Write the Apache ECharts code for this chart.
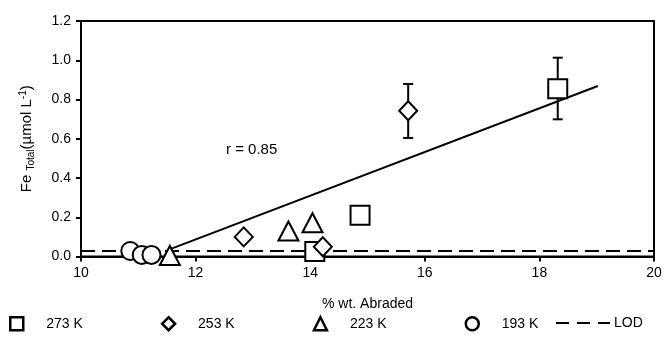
<!DOCTYPE html>
<html><head><meta charset="utf-8">
<script src="https://cdn.jsdelivr.net/npm/echarts@6/dist/echarts.min.js"></script>
<style>html,body{margin:0;padding:0;background:#fff}#c{width:666px;height:356px}</style>
</head><body><div id="c"></div>
<script>
const s273 = [[14.08, 0.025], [14.87, 0.21], [18.32, 0.855]];
const s253 = [[12.84, 0.10], [14.22, 0.05], [15.71, 0.743]];
const s223 = [[11.55, 0.005], [13.62, 0.13], [14.04, 0.172]];
const s193 = [[10.86, 0.028], [11.06, 0.008], [11.23, 0.008]];
const errBars = [[18.32, 0.699, 1.013], [15.71, 0.604, 0.879]];
const trend = [[11.58, 0.04], [19.02, 0.869]];
const lod = [[10, 0.028], [20, 0.028]];
const xTicks = [10, 12, 14, 16, 18, 20];
const yTicks = [0, 0.2, 0.4, 0.6, 0.8, 1.0, 1.2];

const font = 'Liberation Sans, Arial, sans-serif';
const chart = echarts.init(document.getElementById('c'));
const mk = { color: '#fff', borderColor: '#000', borderWidth: 2, opacity: 1 };
chart.setOption({
  animation: false,
  textStyle: { fontFamily: font, color: '#000' },
  grid: { left: 81, right: 12, top: 21, bottom: 99.5, show: true, borderColor: '#000', borderWidth: 2 },
  xAxis: {
    type: 'value', min: xTicks[0], max: xTicks[xTicks.length - 1], interval: 2,
    name: '% wt. Abraded', nameLocation: 'middle', nameGap: 41,
    nameTextStyle: { fontSize: 14, color: '#000', fontFamily: font },
    axisLine: { lineStyle: { color: '#000', width: 2 } },
    axisTick: { show: true, length: 5, lineStyle: { color: '#000', width: 2 } },
    axisLabel: { fontSize: 14, color: '#000', margin: 10, fontFamily: font },
    splitLine: { show: false }
  },
  yAxis: {
    type: 'value', min: yTicks[0], max: yTicks[yTicks.length - 1], interval: 0.2,
    name: '{a|Fe }{b|Total}{a|(µmol L}{c|-1}{a|)}', nameLocation: 'middle', nameGap: 44, nameRotate: 90,
    nameTextStyle: {
      color: '#000', fontFamily: font,
      rich: {
        a: { fontSize: 15, fontFamily: font, color: '#000', lineHeight: 20 },
        b: { fontSize: 10, fontFamily: font, color: '#000', lineHeight: 20, padding: [8, 0, 0, 0] },
        c: { fontSize: 10, fontFamily: font, color: '#000', lineHeight: 20, padding: [0, 0, 8, 0] }
      }
    },
    axisLine: { show: true, lineStyle: { color: '#000', width: 2 } },
    axisTick: { show: true, length: 5, lineStyle: { color: '#000', width: 2 } },
    axisLabel: { fontSize: 14, color: '#000', margin: 10, fontFamily: font, formatter: v => v.toFixed(1) },
    splitLine: { show: false }
  },
  legend: [{
    data: ['273 K', '253 K', '223 K', '193 K'],
    left: 4, top: 311, itemWidth: 13, itemHeight: 13, itemGap: 78,
    textStyle: { fontSize: 14, color: '#000', fontFamily: font, padding: [0, 0, 0, 18] },
    itemStyle: { borderWidth: 2.5 }
  }, {
    data: ['LOD'],
    left: 550, top: 311, itemWidth: 54, itemHeight: 13, itemGap: 0,
    itemStyle: { color: 'rgba(0,0,0,0)', borderWidth: 0, opacity: 0 },
    lineStyle: { color: '#000', width: 2, type: [13, 8] },
    textStyle: { fontSize: 14, color: '#000', fontFamily: font, padding: [0, 0, 0, -1] }
  }],
  graphic: [{
    type: 'text', left: 226, top: 142,
    style: { text: 'r = 0.85', fontSize: 15, fontFamily: font, fill: '#000' }
  }],
  series: [
    {
      name: 'LOD', type: 'line', data: lod, symbol: 'none',
      lineStyle: { color: '#000', width: 2, type: [14, 7] }, z: 1
    },
    {
      name: 'trend', type: 'line', data: trend, symbol: 'none',
      lineStyle: { color: '#000', width: 2 }, z: 2
    },
    {
      name: 'err', type: 'custom', data: errBars, z: 3,
      renderItem: function (params, api) {
        const x = api.value(0);
        const lo = api.coord([x, api.value(1)]);
        const hi = api.coord([x, api.value(2)]);
        const w = 5;
        const st = { stroke: '#000', lineWidth: 2 };
        return { type: 'group', children: [
          { type: 'line', shape: { x1: lo[0], y1: lo[1], x2: hi[0], y2: hi[1] }, style: st },
          { type: 'line', shape: { x1: lo[0] - w, y1: lo[1], x2: lo[0] + w, y2: lo[1] }, style: st },
          { type: 'line', shape: { x1: hi[0] - w, y1: hi[1], x2: hi[0] + w, y2: hi[1] }, style: st }
        ] };
      }
    },
    { name: '273 K', type: 'scatter', data: s273, symbol: 'rect', symbolSize: 19, itemStyle: mk, z: 5 },
    { name: '253 K', type: 'scatter', data: s253, symbol: 'diamond', symbolSize: [18, 19], itemStyle: mk, z: 5 },
    { name: '223 K', type: 'scatter', data: s223, symbol: 'triangle', symbolSize: [20, 19], itemStyle: mk, z: 5 },
    { name: '193 K', type: 'scatter', data: s193, symbol: 'circle', symbolSize: 18, itemStyle: mk, z: 5 }
  ]
});
</script></body></html>
